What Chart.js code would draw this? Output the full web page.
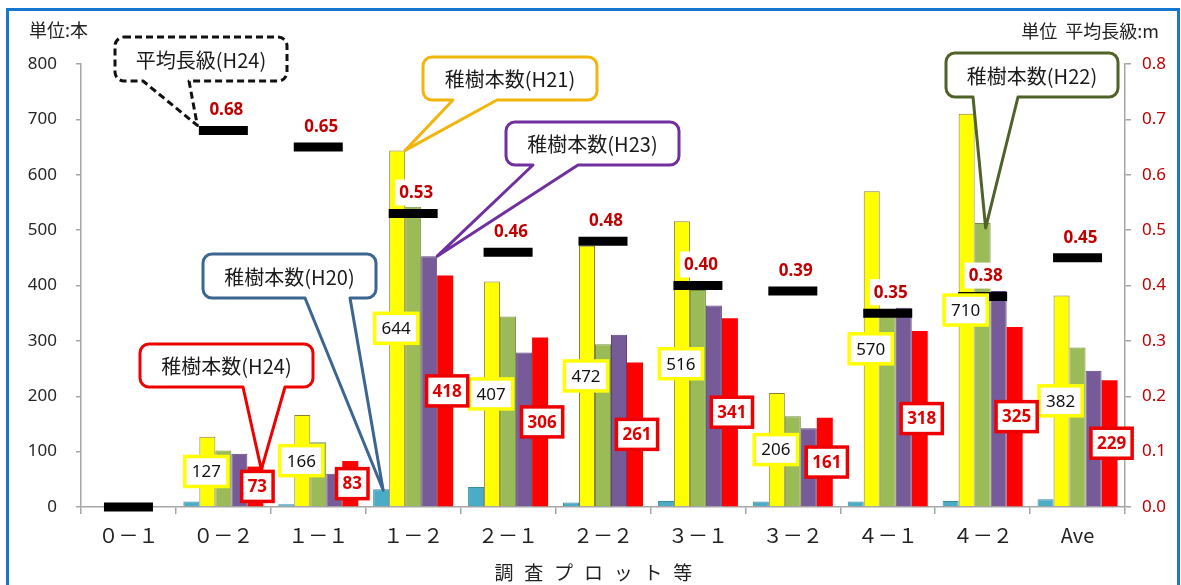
<!DOCTYPE html>
<html lang="ja">
<head>
<meta charset="utf-8">
<title>稚樹本数と平均長級</title>
<script src="https://cdn.jsdelivr.net/npm/chart.js@4.4.1/dist/chart.umd.min.js"></script>
<style>
  html, body { margin: 0; padding: 0; background: #fff; overflow: hidden; }
  #wrap { position: relative; width: 1181px; height: 585px; }
  #frame {
    position: absolute; left: 6px; top: 8px; width: 1174px; height: 700px;
    box-sizing: border-box; border: 3px solid #1577cf; pointer-events: none;
  }
  canvas { position: absolute; left: 0; top: 0; }
</style>
</head>
<body>
<div id="wrap">
  <canvas id="chart" width="1181" height="585"></canvas>
  <div id="frame"></div>
</div>
<script>
const categories = ["０－１", "０－２", "１－１", "１－２", "２－１", "２－２", "３－１", "３－２", "４－１", "４－２", "Ave"];

// 稚樹本数 (本)
const h20 = [null, 10, 5, 32, 36, 8, 11, 10, 10, 11, 14];
const h21 = [null, 127, 166, 644, 407, 472, 516, 206, 570, 710, 382];
const h22 = [null, 102, 117, 542, 344, 294, 392, 164, 355, 513, 288];
const h23 = [null, 96, 60, 453, 279, 311, 364, 142, 360, 390, 246];
const h24 = [null, 73, 83, 418, 306, 261, 341, 161, 318, 325, 229];

// 平均長級 H24 (m)
const avgLength = [0, 0.68, 0.65, 0.53, 0.46, 0.48, 0.40, 0.39, 0.35, 0.38, 0.45];

const countTicks = [0, 100, 200, 300, 400, 500, 600, 700, 800];
const lengthTicks = [0, 0.1, 0.2, 0.3, 0.4, 0.5, 0.6, 0.7, 0.8];

const JP = '"Noto Sans CJK JP", "Noto Sans", sans-serif';
const NUM = '"Noto Sans", "Liberation Sans", sans-serif';
const DARK_RED = "#c00000";

// speech bubbles: box, tail base on the bottom edge, and which mark the tail points at
const callouts = [
  { text: "平均長級(H24)", color: "#111", dash: [7, 4], box: [115, 37, 287, 81], tail: [143, 189], target: { ds: 0, i: 1, dx: -26, dy: -5 } },
  { text: "稚樹本数(H21)", color: "#f2b50c", box: [423, 57, 597, 100], tail: [453, 497], target: { ds: 2, i: 3, dx: 8, dy: 0 } },
  { text: "稚樹本数(H23)", color: "#7030a0", box: [506, 122, 679, 165], tail: [533, 578], target: { ds: 4, i: 3, dx: 8, dy: 0 } },
  { text: "稚樹本数(H20)", color: "#3d6592", box: [203, 254, 376, 298], tail: [305, 350], target: { ds: 1, i: 3, dx: 2, dy: 1 } },
  { text: "稚樹本数(H24)", color: "#ee0000", box: [140, 344, 313, 387], tail: [243, 285], target: { ds: 5, i: 1, dx: 6, dy: 3 } },
  { text: "稚樹本数(H22)", color: "#4f6228", box: [946, 53, 1118, 97], tail: [973, 1018], target: { ds: 3, i: 9, dx: 3, dy: 5 } }
];

function boxedText(ctx, text, x, y, opts) {
  ctx.font = opts.font;
  const w = ctx.measureText(text).width + opts.padX * 2;
  const h = opts.height;
  ctx.fillStyle = "#fff";
  ctx.fillRect(x - w / 2, y - h / 2, w, h);
  if (opts.border) {
    ctx.lineWidth = opts.borderWidth;
    ctx.strokeStyle = opts.border;
    ctx.strokeRect(x - w / 2, y - h / 2, w, h);
  }
  ctx.fillStyle = opts.color;
  ctx.textAlign = "center";
  ctx.textBaseline = "middle";
  ctx.fillText(text, x, y + 1);
}

function drawBubble(ctx, c, tip) {
  const [x1, y1, x2, y2] = c.box;
  const r = 9;
  ctx.save();
  ctx.beginPath();
  ctx.moveTo(x1 + r, y1);
  ctx.lineTo(x2 - r, y1);
  ctx.arcTo(x2, y1, x2, y1 + r, r);
  ctx.lineTo(x2, y2 - r);
  ctx.arcTo(x2, y2, x2 - r, y2, r);
  ctx.lineTo(c.tail[1], y2);
  ctx.lineTo(tip.x, tip.y);
  ctx.lineTo(c.tail[0], y2);
  ctx.lineTo(x1 + r, y2);
  ctx.arcTo(x1, y2, x1, y2 - r, r);
  ctx.lineTo(x1, y1 + r);
  ctx.arcTo(x1, y1, x1 + r, y1, r);
  ctx.closePath();
  ctx.fillStyle = "#fff";
  ctx.fill();
  ctx.lineWidth = 3;
  ctx.lineJoin = "round";
  ctx.strokeStyle = c.color;
  ctx.setLineDash(c.dash || []);
  ctx.stroke();
  ctx.setLineDash([]);
  ctx.fillStyle = "#1a1a1a";
  ctx.font = "20px " + JP;
  ctx.textAlign = "center";
  ctx.textBaseline = "middle";
  ctx.fillText(c.text, (x1 + x2) / 2, (y1 + y2) / 2 + 1);
  ctx.restore();
}

const annotations = {
  id: "annotations",
  afterDatasetsDraw(chart) {
    const ctx = chart.ctx;
    ctx.save();

    // 平均長級の値
    const lenMeta = chart.getDatasetMeta(0);
    lenMeta.data.forEach((pt, i) => {
      if (!avgLength[i]) return;
      boxedText(ctx, avgLength[i].toFixed(2), pt.x + 3, pt.y - 21, {
        font: "bold 17px " + NUM, padX: 4, height: 26, color: DARK_RED
      });
    });

    // H21 の本数
    chart.getDatasetMeta(2).data.forEach((bar, i) => {
      if (h21[i] == null) return;
      boxedText(ctx, String(h21[i]), bar.x - 1, (bar.y + bar.base) / 2, {
        font: "17px " + NUM, padX: 7, height: 30, color: "#111",
        border: "#ffff00", borderWidth: 3.5
      });
    });

    // H24 の本数
    chart.getDatasetMeta(5).data.forEach((bar, i) => {
      if (h24[i] == null) return;
      boxedText(ctx, String(h24[i]), bar.x + 2, (bar.y + bar.base) / 2, {
        font: "bold 17px " + NUM, padX: 6, height: 30, color: "#e00000",
        border: "#ee0000", borderWidth: 3.5
      });
    });

    callouts.forEach(c => {
      const el = chart.getDatasetMeta(c.target.ds).data[c.target.i];
      drawBubble(ctx, c, { x: el.x + c.target.dx, y: el.y + c.target.dy });
    });

    // 単位と軸タイトル
    ctx.fillStyle = "#222";
    ctx.font = "18px " + JP;
    ctx.textBaseline = "middle";
    ctx.textAlign = "left";
    ctx.fillText("単位:本", 29, 30);
    ctx.textAlign = "right";
    ctx.fillText("単位  平均長級:m", 1159, 31);

    const title = "調査プロット等";
    ctx.font = "19px " + JP;
    ctx.textAlign = "center";
    for (let k = 0; k < title.length; k++) {
      ctx.fillText(title[k], 504 + k * 29.8, 573);
    }
    ctx.restore();
  }
};

const barStyle = { categoryPercentage: 0.843, barPercentage: 1, borderWidth: 1, order: 1 };

new Chart(document.getElementById("chart"), {
  type: "bar",
  data: {
    labels: categories,
    datasets: [
      {
        type: "line", label: "平均長級(H24)", data: avgLength, yAxisID: "y2",
        showLine: false, pointStyle: "line", pointRadius: 24.5, pointHoverRadius: 24.5,
        pointBorderWidth: 9, pointHoverBorderWidth: 9, borderColor: "#000",
        backgroundColor: "#000", clip: false, order: 0
      },
      { label: "稚樹本数(H20)", data: h20, backgroundColor: "#4bacc6", borderColor: "#3a8aa0", ...barStyle },
      { label: "稚樹本数(H21)", data: h21, backgroundColor: "#ffff00", borderColor: "#8f7d38", ...barStyle },
      { label: "稚樹本数(H22)", data: h22, backgroundColor: "#9bbb59", borderColor: "#74903e", ...barStyle },
      { label: "稚樹本数(H23)", data: h23, backgroundColor: "#765b98", borderColor: "#5c4679", ...barStyle },
      { label: "稚樹本数(H24)", data: h24, backgroundColor: "#ff0000", borderColor: "#ff0000", ...barStyle, borderWidth: 0 }
    ]
  },
  options: {
    responsive: false,
    animation: false,
    events: [],
    layout: { padding: { top: 64, left: 0, right: 0, bottom: 0 } },
    plugins: { legend: { display: false }, tooltip: { enabled: false } },
    scales: {
      x: {
        offset: true,
        grid: { offset: true, drawOnChartArea: false, tickLength: 7, color: "#a6a6a6", lineWidth: 1.5 },
        border: { color: "#a6a6a6", width: 1.5 },
        ticks: { font: { family: JP, size: 20 }, color: "#222", padding: 9, maxRotation: 0 },
        afterFit: s => { s.height = 78; }
      },
      y: {
        position: "left", min: 0, max: 800,
        afterBuildTicks: s => { s.ticks = countTicks.map(v => ({ value: v })); },
        grid: { drawOnChartArea: false, tickLength: 5, color: "#a6a6a6", lineWidth: 1.5 },
        border: { color: "#a6a6a6", width: 1.5 },
        ticks: { font: { family: NUM, size: 17 }, color: "#262626", padding: 19 },
        afterFit: s => { s.width = 81; }
      },
      y2: {
        position: "right", min: 0, max: 0.8,
        afterBuildTicks: s => { s.ticks = lengthTicks.map(v => ({ value: v })); },
        grid: { drawOnChartArea: false, tickLength: 6, color: "#a6a6a6", lineWidth: 1.5 },
        border: { color: "#a6a6a6", width: 1.5 },
        ticks: { font: { family: NUM, size: 17 }, color: DARK_RED, padding: 11, callback: v => v.toFixed(1) },
        afterFit: s => { s.width = 56; }
      }
    }
  },
  plugins: [annotations]
});
</script>
</body>
</html>
